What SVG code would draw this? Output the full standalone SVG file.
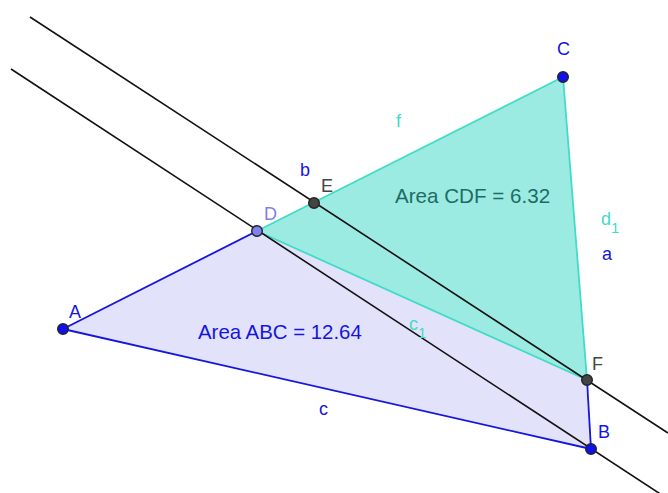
<svg xmlns="http://www.w3.org/2000/svg" width="668" height="493" viewBox="0 0 668 493">
<style>
text{font-family:"Liberation Sans",Arial,sans-serif;}
.lbl{font-size:18px;}
.blue{fill:#1515dd;}
.cyan{fill:#40dcc8;}
.gray{fill:#444444;}
.line{stroke:#111;stroke-width:1.6;fill:none;}
.pt{stroke:#222;stroke-width:1.4;}
</style>
<rect width="668" height="493" fill="#ffffff"/>
<g id="polyABC">
<polygon points="63,329 591,449 563,77" fill="#e2e2fa" stroke="none"/>
<line x1="63" y1="329" x2="257" y2="231" stroke="#1515dd" stroke-width="1.8"/>
<line x1="63" y1="329" x2="591" y2="449" stroke="#1515dd" stroke-width="1.8"/>
<line x1="587" y1="380" x2="591" y2="449" stroke="#1515dd" stroke-width="1.8"/>
<text class="blue" x="198" y="339" font-size="20.4">Area ABC = 12.64</text>
</g>
<g id="polyCDF">
<polygon points="563,77 257,231 587,380" fill="#9cebe3" stroke="none"/>
<line x1="257" y1="231" x2="563" y2="77" stroke="#40dcc8" stroke-width="1.8"/>
<line x1="257" y1="231" x2="587" y2="380" stroke="#40dcc8" stroke-width="1.8"/>
<line x1="563" y1="77" x2="587" y2="380" stroke="#40dcc8" stroke-width="1.8"/>
<text x="395" y="203" font-size="20.6" fill="#1f6b63">Area CDF = 6.32</text>
</g>
<g id="connectors">
<line class="line" x1="30" y1="17" x2="668" y2="433"/>
<line class="line" x1="11" y1="69" x2="668" y2="499"/>
</g>
<g id="labels">
<text class="lbl blue" x="300" y="176">b</text>
<text class="lbl cyan" x="396" y="127">f</text>
<text class="lbl cyan" x="601" y="225">d<tspan font-size="15" dy="8">1</tspan></text>
<text class="lbl blue" x="602" y="260">a</text>
<text class="lbl cyan" x="409" y="330">c<tspan font-size="15" dy="8">1</tspan></text>
<text class="lbl blue" x="319" y="415">c</text>
</g>
<g id="A">
<circle class="pt" cx="63" cy="329" r="5.3" fill="#1010f0"/>
<text class="lbl blue" x="69" y="318">A</text>
</g>
<g id="B">
<circle class="pt" cx="591" cy="449" r="5.3" fill="#1010f0"/>
<text class="lbl blue" x="598" y="438">B</text>
</g>
<g id="C">
<circle class="pt" cx="563" cy="77" r="5.3" fill="#1010f0"/>
<text class="lbl blue" x="557" y="55">C</text>
</g>
<g id="D">
<circle class="pt" cx="257" cy="231" r="5.3" fill="#8080f0"/>
<text class="lbl" x="264" y="220" fill="#8080e8">D</text>
</g>
<g id="E">
<circle class="pt" cx="314" cy="203" r="5.3" fill="#444444"/>
<text class="lbl gray" x="321" y="192">E</text>
</g>
<g id="F">
<circle class="pt" cx="587" cy="380" r="5.3" fill="#444444"/>
<text class="lbl gray" x="592" y="370">F</text>
</g>
</svg>
